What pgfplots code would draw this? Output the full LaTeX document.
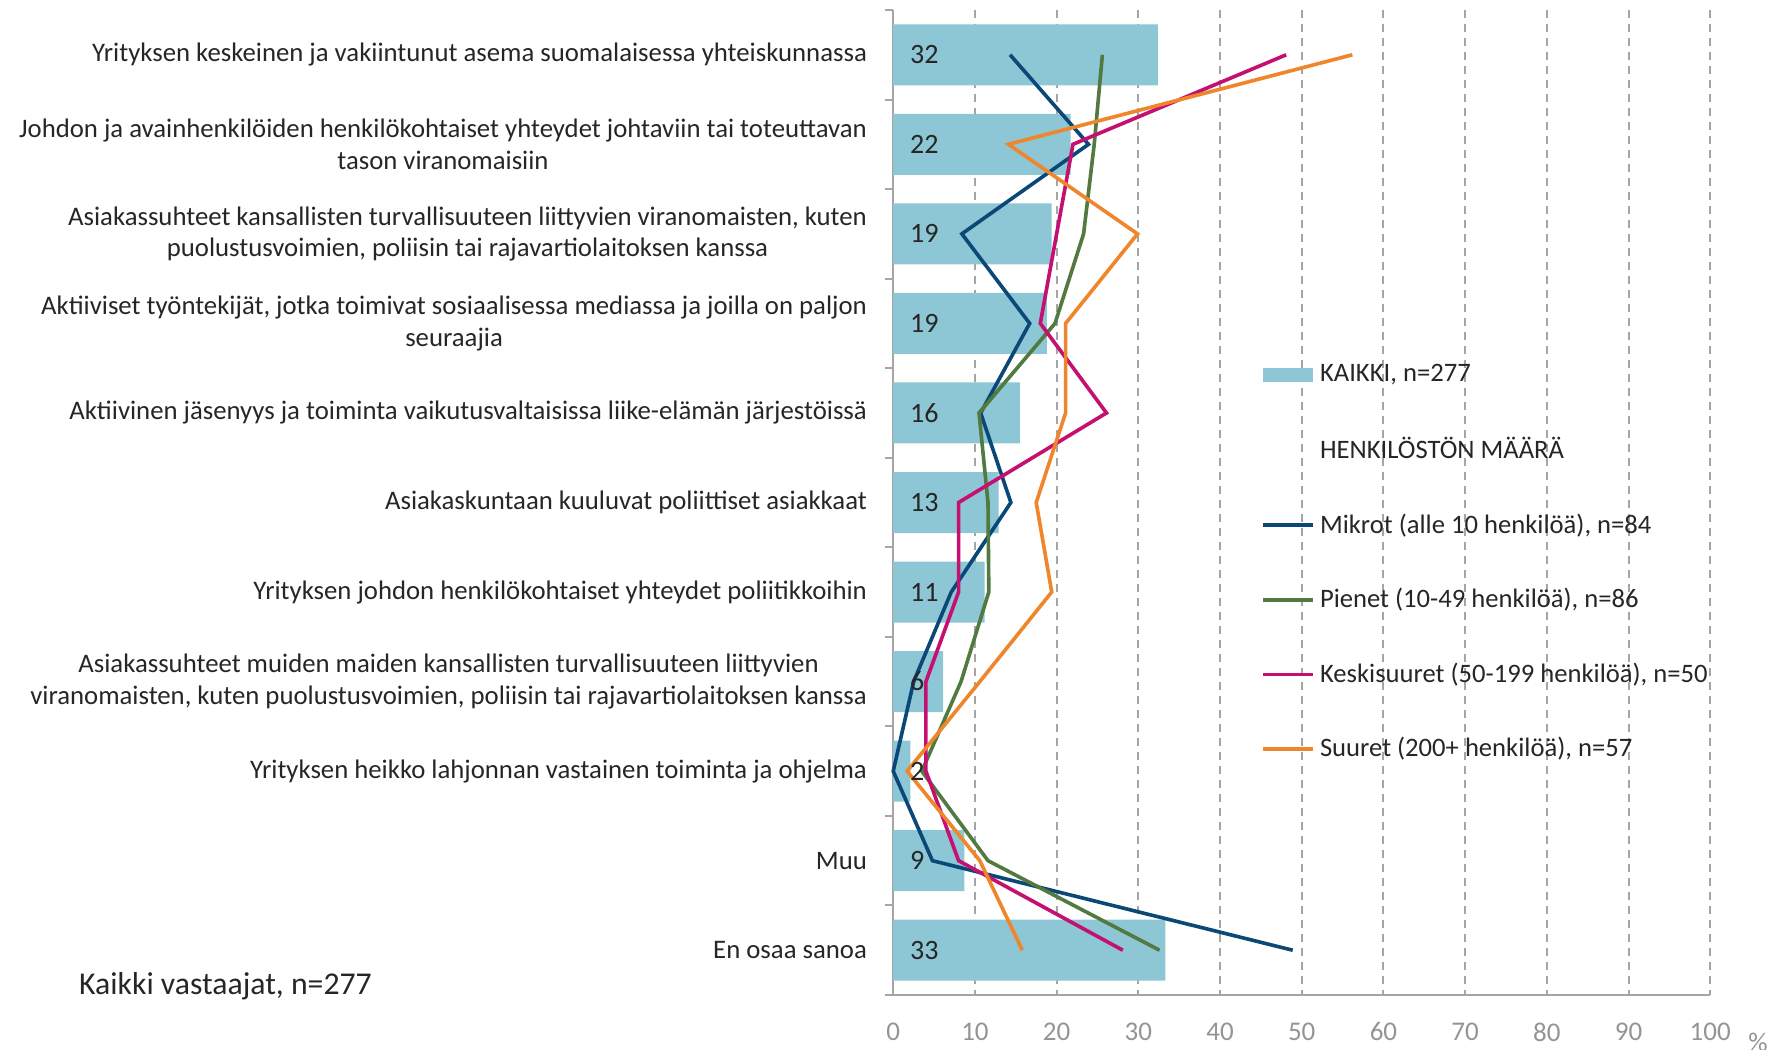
\documentclass[border=0pt]{standalone}
\usepackage{pgfplots}
\pgfplotsset{compat=1.18}
\usepackage{fontspec}
\setmainfont{Carlito}

\definecolor{kaikki}{RGB}{141,198,212}
\definecolor{mikrot}{RGB}{10,72,120}
\definecolor{pienet}{RGB}{82,122,64}
\definecolor{keski}{RGB}{196,16,112}
\definecolor{suuret}{RGB}{240,134,44}
\definecolor{txt}{RGB}{38,38,38}
\definecolor{axgray}{RGB}{165,165,165}

\pgfplotsset{
  lineleg/.style={legend image code/.code={\draw[##1] (0pt,0pt) -- (20pt,0pt);}},
  barleg/.style={legend image code/.code={\fill[kaikki] (0pt,-2.8pt) rectangle (20pt,2.8pt);}},
}

\begin{document}
\begin{tikzpicture}
% page = 1768 x 1050 px at 0.4pt per px, axis box at (893,10)-(1710,995)
\path[use as bounding box] (-357.3pt,-22pt) rectangle (349.9pt,398pt);
\begin{axis}[
    at={(0pt,0pt)}, anchor=south west,
    scale only axis,
    width=326.8pt, height=394pt,
    clip=false,
    xmin=0, xmax=100,
    ymin=-0.5, ymax=10.5,
    y dir=reverse,
    axis x line*=bottom, axis y line*=left,
    axis line style={-, axgray, line width=0.8pt},
    xtick={0,10,...,100},
    xticklabel style={font=\fontsize{10.8}{13}\selectfont, text=axgray!90!black, yshift=-7.5pt},
    /pgf/number format/assume math mode=true,
    xmajorgrids,
    major x grid style={axgray, line width=0.8pt, dash pattern=on 3.2pt off 2.4pt},
    major tick length=0pt,
    ytick={0,...,10},
    minor ytick={-0.5,0.5,...,10.5},
    minor tick length=3.3pt,
    tick align=outside,
    minor tick style={axgray, line width=0.8pt},
    yticklabel style={font=\fontsize{10.7}{12.6}\selectfont, text=txt, align=center, xshift=-7pt},
    yticklabels={
      {Yrityksen keskeinen ja vakiintunut asema suomalaisessa yhteiskunnassa},
      {Johdon ja avainhenkilöiden henkilökohtaiset yhteydet johtaviin tai toteuttavan\\tason viranomaisiin},
      {Asiakassuhteet kansallisten turvallisuuteen liittyvien viranomaisten, kuten\\puolustusvoimien, poliisin tai rajavartiolaitoksen kanssa},
      {Aktiiviset työntekijät, jotka toimivat sosiaalisessa mediassa ja joilla on paljon\\seuraajia},
      {Aktiivinen jäsenyys ja toiminta vaikutusvaltaisissa liike-elämän järjestöissä},
      {Asiakaskuntaan kuuluvat poliittiset asiakkaat},
      {Yrityksen johdon henkilökohtaiset yhteydet poliitikkoihin},
      {Asiakassuhteet muiden maiden kansallisten turvallisuuteen liittyvien\\viranomaisten, kuten puolustusvoimien, poliisin tai rajavartiolaitoksen kanssa},
      {Yrityksen heikko lahjonnan vastainen toiminta ja ohjelma},
      {Muu},
      {En osaa sanoa}},
    legend style={draw=none, fill=none, at={(0.45,0.6455)}, anchor=north west,
      font=\fontsize{10.65}{12.6}\selectfont, text=txt, row sep=16.55pt, inner sep=0pt},
    legend cell align=left,
]
\addplot[xbar, bar width=24.4pt, fill=kaikki, draw=none, barleg]
  coordinates {(32.4,0) (21.7,1) (19.4,2) (18.8,3) (15.5,4) (12.9,5) (11.2,6) (6.1,7) (2.1,8) (8.7,9) (33.3,10)};
\addlegendentry{KAIKKI, n=277}
\addlegendimage{empty legend}
\addlegendentry{HENKILÖSTÖN MÄÄRÄ}

\addplot[mikrot, line width=1.45pt, lineleg]
  coordinates {(14.3,0) (23.9,1) (8.4,2) (16.7,3) (10.7,4) (14.4,5) (7.1,6) (2.5,7) (0,8) (4.8,9) (48.9,10)};
\addlegendentry{Mikrot (alle 10 henkilöä), n=84}
\addplot[pienet, line width=1.45pt, lineleg]
  coordinates {(25.6,0) (24.6,1) (23.3,2) (19.8,3) (10.5,4) (11.6,5) (11.7,6) (8.3,7) (3.5,8) (11.6,9) (32.6,10)};
\addlegendentry{Pienet (10-49 henkilöä), n=86}
\addplot[keski, line width=1.45pt, lineleg]
  coordinates {(48.1,0) (22.0,1) (20.0,2) (18.0,3) (26.1,4) (8.0,5) (8.0,6) (4.0,7) (4.0,8) (8.0,9) (28.1,10)};
\addlegendentry{Keskisuuret (50-199 henkilöä), n=50}
\addplot[suuret, line width=1.45pt, lineleg]
  coordinates {(56.2,0) (14.1,1) (29.9,2) (21.1,3) (21.1,4) (17.5,5) (19.4,6) (10.6,7) (1.7,8) (10.6,9) (15.8,10)};
\addlegendentry{Suuret (200+ henkilöä), n=57}

% value labels at the start of each bar
\addplot[forget plot, only marks, mark=none, point meta=explicit symbolic,
  nodes near coords,
  nodes near coords style={anchor=west, inner sep=0pt, xshift=6.6pt, yshift=0pt,
    font=\fontsize{11.2}{13}\selectfont, text=txt}]
  coordinates {(0,0) [32] (0,1) [22] (0,2) [19] (0,3) [19] (0,4) [16] (0,5) [13]
               (0,6) [11] (0,7) [6] (0,8) [2] (0,9) [9] (0,10) [33]};

\node[anchor=west, inner sep=0pt, font=\fontsize{12.7}{15}\selectfont, text=txt]
  at (axis description cs:-0.997,0.009) {Kaikki vastaajat, n=277};
\node[anchor=north west, inner sep=0pt, font=\fontsize{10.8}{13}\selectfont, text=axgray!90!black]
  at (axis description cs:1.046,-0.0386) {\%};
\end{axis}
\end{tikzpicture}
\end{document}
